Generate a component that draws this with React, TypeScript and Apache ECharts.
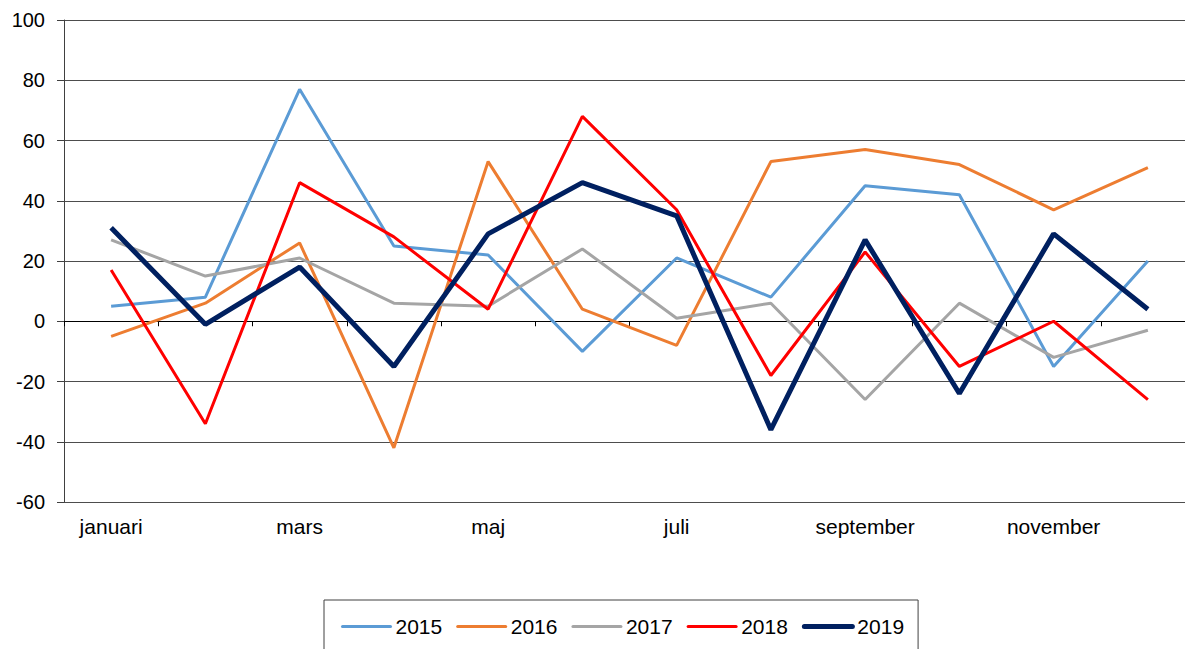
import React, { useEffect, useRef } from "react";
import * as echarts from "echarts";

const months = ["januari", "februari", "mars", "april", "maj", "juni", "juli", "augusti", "september", "oktober", "november", "december"];
const years = ["2015", "2016", "2017", "2018", "2019"];
const v2015 = [5, 8, 77, 25, 22, -10, 21, 8, 45, 42, -15, 20];
const v2016 = [-5, 6, 26, -42, 53, 4, -8, 53, 57, 52, 37, 51];
const v2017 = [27, 15, 21, 6, 5, 24, 1, 6, -26, 6, -12, -3];
const v2018 = [17, -34, 46, 28, 4, 68, 37, -18, 23, -15, 0, -26];
const v2019 = [31, -1, 18, -15, 29, 46, 35, -36, 27, -24, 29, 4];
const seriesValues = [v2015, v2016, v2017, v2018, v2019];
const colors = ["#5B9BD5", "#ED7D31", "#A5A5A5", "#FF0000", "#002060"];
const widths = [3, 3, 3, 3, 5];

const FONT = "'Liberation Sans', Arial, sans-serif";

export default function App() {
  const ref = useRef<HTMLDivElement>(null);
  useEffect(() => {
    if (!ref.current) return;
    const chart = echarts.init(ref.current, undefined, { renderer: "svg" });
    chart.setOption({
      animation: false,
      grid: { left: 64, top: 20, right: 0, bottom: 147, containLabel: false },
      legend: {
        data: years.map((y, i) => ({
          name: y,
          itemStyle: { opacity: 0 },
          lineStyle: { width: widths[i], color: colors[i], cap: "round" },
        })),
        left: 324,
        top: 600,
        padding: [16, 14, 20, 17],
        itemWidth: 48,
        itemHeight: 14,
        itemGap: 14,
        borderColor: "#404040",
        borderWidth: 1,
        textStyle: { fontFamily: FONT, fontSize: 21, color: "#000" },
      },
      xAxis: [
        {
          type: "category",
          data: months,
          position: "bottom",
          boundaryGap: true,
          axisLine: { show: true, onZero: true, lineStyle: { color: "#000", width: 1 } },
          axisTick: { show: true, length: 5, lineStyle: { color: "#000" } },
          axisLabel: { show: false },
          splitLine: { show: false },
        },
        {
          type: "category",
          data: months,
          position: "bottom",
          boundaryGap: true,
          axisLine: { show: false, onZero: false },
          axisTick: { show: false },
          axisLabel: { interval: 1, margin: 14, fontFamily: FONT, fontSize: 21, color: "#000" },
          splitLine: { show: false },
        },
      ],
      yAxis: {
        type: "value",
        min: -60,
        max: 100,
        interval: 20,
        axisLine: { show: true, lineStyle: { color: "#404040", width: 1 } },
        axisTick: { show: true, length: 7, inside: false, lineStyle: { color: "#404040" } },
        axisLabel: { margin: 19, fontFamily: FONT, fontSize: 20, color: "#000" },
        splitLine: { show: true, lineStyle: { color: "#4d4d4d", width: 1 } },
      },
      series: years.map((y, i) => ({
        name: y,
        type: "line",
        xAxisIndex: 0,
        data: seriesValues[i],
        symbol: "none",
        z: 2 + i,
        color: colors[i],
        lineStyle: { color: colors[i], width: widths[i] },
      })),
    });
    return () => chart.dispose();
  }, []);
  return (
    <div style={{ position: "absolute", left: 0, top: 0, width: 1185, height: 649, overflow: "hidden" }}>
      <div ref={ref} style={{ width: 1195, height: 649 }} />
    </div>
  );
}
